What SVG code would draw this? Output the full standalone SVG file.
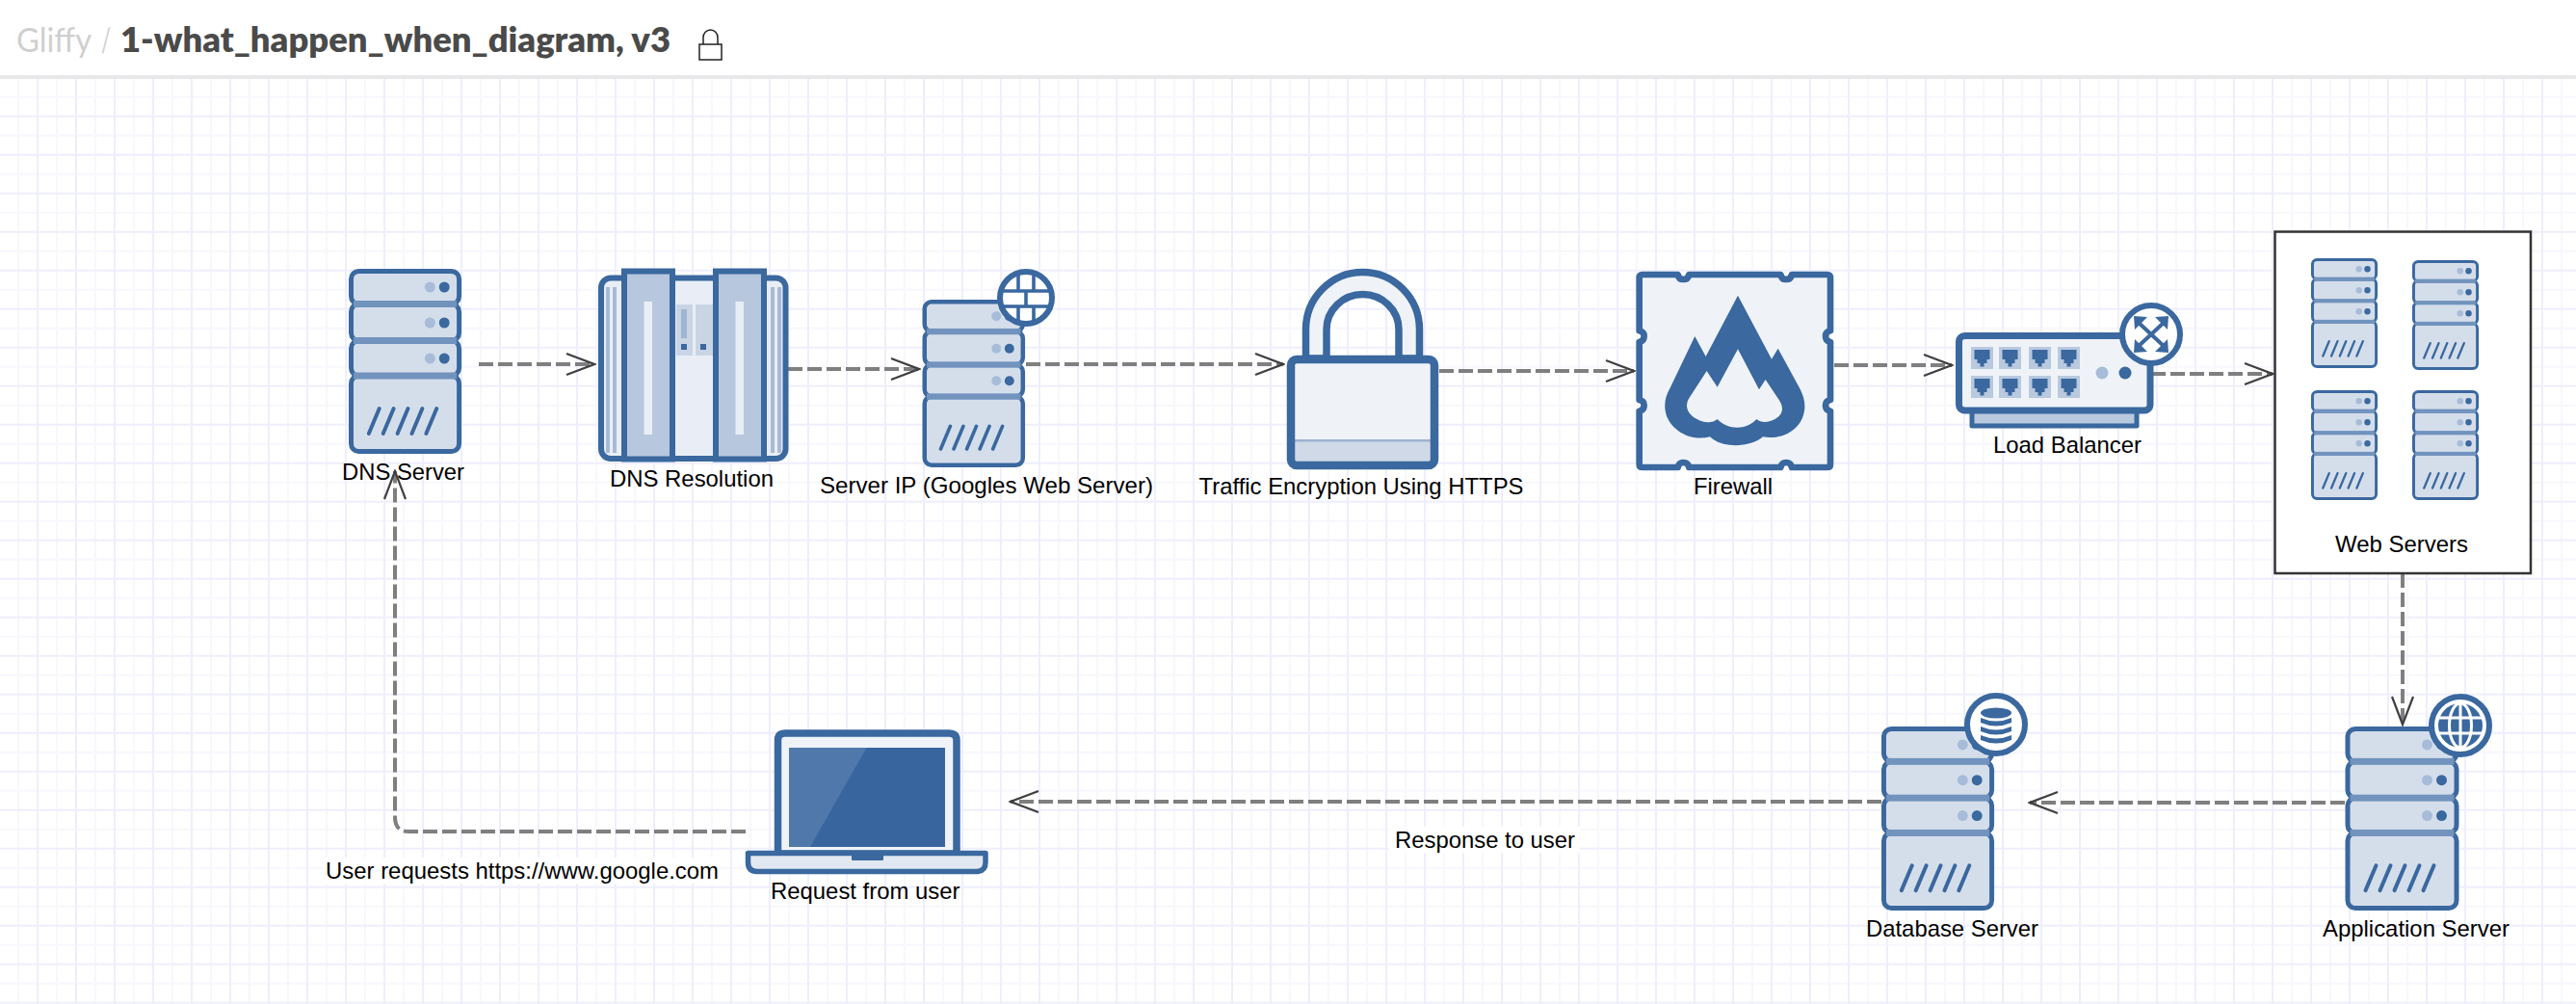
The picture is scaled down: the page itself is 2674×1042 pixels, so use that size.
<svg xmlns="http://www.w3.org/2000/svg" width="2674" height="1042" viewBox="0 0 2674 1042">
<style>
.lbl{font-family:"Liberation Sans",Arial,sans-serif;font-size:24px;fill:#000}
.cn{fill:none;stroke:#7f7f7f;stroke-width:4;stroke-dasharray:15 5;marker-end:url(#chev)}
.ic{stroke:#3a689f;stroke-linejoin:round}
.badge{fill:#fff;stroke:#3a689f;stroke-width:6}
.blue{fill:#3a689f}
</style>
<defs>
<pattern id="grid" patternUnits="userSpaceOnUse" x="-2" y="79.7" width="40" height="40">
<rect width="40" height="40" fill="#fff"/>
<rect x="20" width="2" height="40" fill="#f7f7fd"/>
<rect y="20" width="40" height="2" fill="#f7f7fd"/>
<rect x="0" width="2" height="40" fill="#eeeefd"/>
<rect y="0" width="40" height="2" fill="#eeeefd"/>
</pattern>
<marker id="chev" markerUnits="userSpaceOnUse" markerWidth="32" markerHeight="26" viewBox="0 0 32 26" refX="30" refY="13" orient="auto">
<path d="M1,2 L30,13 L1,24" fill="none" stroke="#3f3f3f" stroke-width="2.2"/>
</marker>
<g id="srv">
<rect x="2.5" y="111" width="113" height="78.5" rx="8" fill="#d4deeb" stroke="#3a689f" stroke-width="5"/>
<rect x="2.5" y="74.5" width="113" height="36.5" rx="8" fill="#d4deeb" stroke="#3a689f" stroke-width="5"/>
<rect x="2.5" y="36.5" width="113" height="38" rx="8" fill="#d4deeb" stroke="#3a689f" stroke-width="5"/>
<rect x="2.5" y="2.5" width="113" height="34" rx="8" fill="#d4deeb" stroke="#3a689f" stroke-width="5"/>
<rect x="5" y="33" width="108" height="7" fill="#7193bd"/>
<rect x="5" y="71" width="108" height="7" fill="#7193bd"/>
<rect x="5" y="107.500" width="108" height="7" fill="#7193bd"/>
<g fill="#a6bcd8"><circle cx="85" cy="19" r="5.500"/><circle cx="85" cy="56" r="5.500"/><circle cx="85" cy="93" r="5.500"/></g>
<g class="blue"><circle cx="100" cy="19" r="5.500"/><circle cx="100" cy="56" r="5.500"/><circle cx="100" cy="93" r="5.500"/></g>
<path d="M21,171 L32,145 M36,171 L47,145 M51,171 L62,145 M66,171 L77,145 M81,171 L92,145" fill="none" stroke="#3a689f" stroke-width="4" stroke-linecap="round"/>
</g>
<g id="port">
<rect width="23" height="23" fill="#b9c9de"/>
<path d="M3.500,3 H19.500 V13 H16.500 V17 H13.500 V20.500 H9.500 V17 H6.500 V13 H3.500 Z" class="blue"/>
</g>
</defs>

<rect width="2674" height="1042" fill="url(#grid)"/>

<g id="header">
<rect width="2674" height="78" fill="#fff"/>
<rect y="78" width="2674" height="4" fill="#e8e8ea"/>
<text x="17" y="53.500" font-family="Lato,'Liberation Sans',sans-serif" font-size="35" fill="#cfcfcf" textLength="78" lengthAdjust="spacingAndGlyphs">Gliffy</text>
<text x="105" y="53.500" font-family="Lato,'Liberation Sans',sans-serif" font-size="35" fill="#cfcfcf" textLength="10" lengthAdjust="spacingAndGlyphs">/</text>
<text x="125" y="53.500" font-family="Lato,'Liberation Sans',sans-serif" font-size="35" font-weight="800" fill="#4a4a4a" textLength="571" lengthAdjust="spacingAndGlyphs">1-what_happen_when_diagram, v3</text>
<path d="M730,46 V39 A7.500,8 0 0 1 745,39 V46" fill="none" stroke="#222" stroke-width="1.500"/>
<rect x="726" y="46" width="23" height="16" fill="#fff" stroke="#222" stroke-width="1.500"/>
</g>

<g id="connectors">
<path class="cn" d="M497,378 H617"/>
<path class="cn" d="M818,383 H954"/>
<path class="cn" d="M1065,378 H1332"/>
<path class="cn" d="M1494,385 H1696"/>
<path class="cn" d="M1904,379 H2026"/>
<path class="cn" d="M2233,388 H2359"/>
<path class="cn" d="M2494,595 V752"/>
<path class="cn" d="M2434,833 H2107"/>
<path class="cn" d="M1953,832 H1049"/>
<path class="cn" d="M774,863 H424 Q410,863 410,848 V489"/>
</g>

<g id="dns-server">
<use href="#srv" transform="translate(362,279) scale(.992,1)"/>
<text class="lbl" x="355" y="497.500" textLength="127" lengthAdjust="spacingAndGlyphs">DNS Server</text>
</g>

<g id="dns-resolution">
<rect x="624" y="288.500" width="191.500" height="187.500" rx="10" fill="#e9eef6" stroke="#3a689f" stroke-width="6"/>
<path d="M631,298 V470 M638,298 V470 M802,298 V470 M809,298 V470" stroke="#a8bbd5" stroke-width="4" fill="none"/>
<rect x="648" y="281.500" width="50" height="195" fill="#b7c7dd" stroke="#3a689f" stroke-width="6"/>
<rect x="743" y="281.500" width="50" height="195" fill="#b7c7dd" stroke="#3a689f" stroke-width="6"/>
<rect x="668.500" y="313" width="8.500" height="138" fill="#e9eef6"/>
<rect x="763.500" y="313" width="8.500" height="138" fill="#e9eef6"/>
<rect x="702" y="316" width="17" height="53" fill="#c9d5e5"/>
<rect x="722" y="316" width="18" height="53" fill="#c9d5e5"/>
<rect x="707" y="321" width="6" height="30" fill="#a0b5d2"/>
<rect x="707" y="357" width="6" height="6" class="blue"/>
<rect x="727" y="357" width="6" height="6" class="blue"/>
<text class="lbl" x="633" y="505" textLength="170" lengthAdjust="spacingAndGlyphs">DNS Resolution</text>
</g>

<g id="server-ip">
<use href="#srv" transform="translate(957.500,311) scale(.903,.906)"/>
<circle class="badge" cx="1065" cy="309" r="27"/>
<path d="M1040,302 H1090 M1040,318 H1090 M1057,284 V302 M1073,284 V302 M1065,302 V318 M1057,318 V334 M1073,318 V334" stroke="#3a689f" stroke-width="3.600" fill="none"/>
<text class="lbl" x="851" y="511.500" textLength="346" lengthAdjust="spacingAndGlyphs">Server IP (Googles Web Server)</text>
</g>

<g id="encryption">
<path class="ic" d="M1355.500,372 V342 A59,59.500 0 0 1 1473.500,342 V372 H1452 V342 A37.500,36.500 0 0 0 1377,342 V372 Z" fill="#eff3f8" stroke-width="7.500"/>
<rect x="1340" y="373" width="149" height="110" rx="6" fill="#eff3f8"/>
<rect x="1340" y="457" width="149" height="26" fill="#cfd9e7"/>
<rect x="1340" y="456" width="149" height="2.500" fill="#9db2cf"/>
<rect class="ic" x="1340" y="373" width="149" height="110" rx="6" fill="none" stroke-width="8.500"/>
<text class="lbl" x="1244.500" y="513" textLength="337" lengthAdjust="spacingAndGlyphs">Traffic Encryption Using HTTPS</text>
</g>

<g id="firewall">
<g transform="translate(1690,275) scale(.33333)">
<path class="ic" d="M45,30 H155 Q158,45 172,45 Q187,45 190,30 H475 Q478,45 492,45 Q507,45 510,30 H620 Q630,30 630,40 V205 Q615,208 615,222 Q615,237 630,240 V420 Q615,423 615,437 Q615,452 630,455 V620 Q630,630 620,630 H510 Q507,615 492,615 Q478,615 475,630 H190 Q187,615 172,615 Q158,615 155,630 H45 Q35,630 35,620 V455 Q50,452 50,437 Q50,423 35,420 V240 Q50,237 50,222 Q50,208 35,205 V40 Q35,30 45,30 Z" fill="#eff3f8" stroke-width="20"/>
<path class="blue" fill-rule="evenodd" d="M342,95 L447,293 L467,260 L535,385 C550,415 555,440 545,470 C530,515 480,545 420,535 C385,565 300,575 255,535 C200,550 140,520 120,470 C110,440 115,410 130,385 L208,222 L242,285 Z M342,262 L278,380 L245,330 L190,415 C175,440 185,465 215,480 C230,490 260,495 278,480 C310,515 370,515 400,480 C410,490 430,490 440,487 C480,475 490,450 470,420 L428,357 L408,388 Z"/>
</g>
<text class="lbl" x="1758" y="513" textLength="82" lengthAdjust="spacingAndGlyphs">Firewall</text>
</g>

<g id="load-balancer">
<rect class="ic" x="2047" y="426" width="171" height="16" fill="#b9c9de" stroke-width="5"/>
<rect class="ic" x="2033.500" y="348.500" width="198.500" height="77.500" rx="6" fill="#eff3f8" stroke-width="7"/>
<use href="#port" x="2046" y="360"/><use href="#port" x="2075" y="360"/><use href="#port" x="2106" y="360"/><use href="#port" x="2136" y="360"/>
<use href="#port" x="2046" y="390"/><use href="#port" x="2075" y="390"/><use href="#port" x="2106" y="390"/><use href="#port" x="2136" y="390"/>
<circle cx="2182" cy="387" r="6.500" fill="#a6bcd8"/><circle cx="2206" cy="387" r="6.500" class="blue"/>
<circle class="badge" cx="2233" cy="347" r="30" stroke-width="6.500"/>
<g transform="translate(2233,347)">
<path d="M-14,-13 Q0,0 14,13 M14,-13 Q0,0 -14,13" fill="none" stroke="#3a689f" stroke-width="4"/>
<path class="blue" d="M-18,-19 L-4,-18 L-17,-5 Z M18,-19 L4,-18 L17,-5 Z M-18,19 L-4,18 L-17,5 Z M18,19 L4,18 L17,5 Z"/>
</g>
<text class="lbl" x="2069" y="470" textLength="154" lengthAdjust="spacingAndGlyphs">Load Balancer</text>
</g>

<g id="web-servers">
<rect x="2361.500" y="240.500" width="265.500" height="354.500" fill="#fff" stroke="#333" stroke-width="2.500"/>
<use href="#srv" transform="translate(2399,268) scale(.585,.594)"/>
<use href="#srv" transform="translate(2504,270) scale(.585,.594)"/>
<use href="#srv" transform="translate(2399,405) scale(.585,.594)"/>
<use href="#srv" transform="translate(2504,405) scale(.585,.594)"/>
<text class="lbl" x="2424" y="573" textLength="138" lengthAdjust="spacingAndGlyphs">Web Servers</text>
</g>

<g id="application-server">
<use href="#srv" transform="translate(2434.500,754) scale(1,.995)"/>
<circle class="badge" cx="2554" cy="753" r="30"/>
<g transform="translate(2554,753)">
<circle r="23" class="blue"/>
<path d="M0,-23 V23 M-23,-8 H23 M-23,8 H23" stroke="#fff" stroke-width="3" fill="none"/>
<ellipse rx="11.500" ry="23" fill="none" stroke="#fff" stroke-width="3"/>
</g>
<text class="lbl" x="2411" y="972" textLength="194" lengthAdjust="spacingAndGlyphs">Application Server</text>
</g>

<g id="database-server">
<use href="#srv" transform="translate(1953,754) scale(.992,.995)"/>
<circle class="badge" cx="2072" cy="752" r="30"/>
<g transform="translate(2072,752)" class="blue">
<ellipse cy="-12" rx="16" ry="5.500"/>
<path d="M-16,-7 Q0,0 16,-7 V-2 Q0,5 -16,-2 Z M-16,2 Q0,9 16,2 V7 Q0,14 -16,7 Z M-16,11 Q0,18 16,11 V16 Q0,23 -16,16 Z"/>
</g>
<text class="lbl" x="1937" y="972" textLength="179" lengthAdjust="spacingAndGlyphs">Database Server</text>
</g>

<g id="laptop">
<path class="ic" d="M807.500,886 V768 Q807.500,761 815,761 H985 Q993,761 993,768 V886 Z" fill="#eff3f8" stroke-width="7.500"/>
<rect x="819" y="776" width="162" height="103" fill="#39659f"/>
<path d="M819,776 H899.500 L841,879 H819 Z" fill="#5078aa"/>
<path class="ic" d="M776.500,885.500 H1023 V895 Q1023,904.500 1013,904.500 H786 Q776.500,904.500 776.500,895 Z" fill="#e2e8f2" stroke-width="5.500"/>
<rect x="884" y="885" width="33" height="8" rx="1" class="blue"/>
<text class="lbl" x="800" y="933" textLength="196.500" lengthAdjust="spacingAndGlyphs">Request from user</text>
</g>

<g id="label-user-requests">
<rect x="336" y="890" width="412" height="27" fill="#fff"/>
<text class="lbl" x="338" y="912" textLength="408" lengthAdjust="spacingAndGlyphs">User requests https://www.google.com</text>
</g>
<g id="label-response">
<rect x="1442" y="858" width="198" height="27" fill="#fff"/>
<text class="lbl" x="1448" y="880" textLength="187" lengthAdjust="spacingAndGlyphs">Response to user</text>
</g>
</svg>
